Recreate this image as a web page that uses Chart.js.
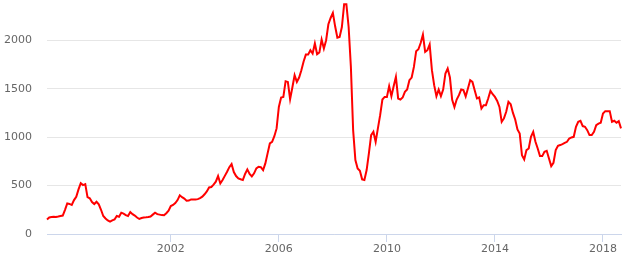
<!DOCTYPE html>
<html>
<head>
<meta charset="utf-8">
<script src="https://cdn.jsdelivr.net/npm/chart.js@4/dist/chart.umd.min.js"></script>
<style>
    html, body { margin: 0; padding: 0; background: #fff; }
    #wrap { position: relative; width: 630px; height: 256px; }
</style>
</head>
<body>
<div id="wrap"><canvas id="priceChart"></canvas></div>
<script>
// ==========================================
// DATA (monthly, Jun 1997 - Sep 2018)
// ==========================================
var months = [
    '1997-06','1997-07','1997-08','1997-09','1997-10','1997-11','1997-12',
    '1998-01','1998-02','1998-03','1998-04','1998-05','1998-06','1998-07','1998-08','1998-09','1998-10','1998-11','1998-12',
    '1999-01','1999-02','1999-03','1999-04','1999-05','1999-06','1999-07','1999-08','1999-09','1999-10','1999-11','1999-12',
    '2000-01','2000-02','2000-03','2000-04','2000-05','2000-06','2000-07','2000-08','2000-09','2000-10','2000-11','2000-12',
    '2001-01','2001-02','2001-03','2001-04','2001-05','2001-06','2001-07','2001-08','2001-09','2001-10','2001-11','2001-12',
    '2002-01','2002-02','2002-03','2002-04','2002-05','2002-06','2002-07','2002-08','2002-09','2002-10','2002-11','2002-12',
    '2003-01','2003-02','2003-03','2003-04','2003-05','2003-06','2003-07','2003-08','2003-09','2003-10','2003-11','2003-12',
    '2004-01','2004-02','2004-03','2004-04','2004-05','2004-06','2004-07','2004-08','2004-09','2004-10','2004-11','2004-12',
    '2005-01','2005-02','2005-03','2005-04','2005-05','2005-06','2005-07','2005-08','2005-09','2005-10','2005-11','2005-12',
    '2006-01','2006-02','2006-03','2006-04','2006-05','2006-06','2006-07','2006-08','2006-09','2006-10','2006-11','2006-12',
    '2007-01','2007-02','2007-03','2007-04','2007-05','2007-06','2007-07','2007-08','2007-09','2007-10','2007-11','2007-12',
    '2008-01','2008-02','2008-03','2008-04','2008-05','2008-06','2008-07','2008-08','2008-09','2008-10','2008-11','2008-12',
    '2009-01','2009-02','2009-03','2009-04','2009-05','2009-06','2009-07','2009-08','2009-09','2009-10','2009-11','2009-12',
    '2010-01','2010-02','2010-03','2010-04','2010-05','2010-06','2010-07','2010-08','2010-09','2010-10','2010-11','2010-12',
    '2011-01','2011-02','2011-03','2011-04','2011-05','2011-06','2011-07','2011-08','2011-09','2011-10','2011-11','2011-12',
    '2012-01','2012-02','2012-03','2012-04','2012-05','2012-06','2012-07','2012-08','2012-09','2012-10','2012-11','2012-12',
    '2013-01','2013-02','2013-03','2013-04','2013-05','2013-06','2013-07','2013-08','2013-09','2013-10','2013-11','2013-12',
    '2014-01','2014-02','2014-03','2014-04','2014-05','2014-06','2014-07','2014-08','2014-09','2014-10','2014-11','2014-12',
    '2015-01','2015-02','2015-03','2015-04','2015-05','2015-06','2015-07','2015-08','2015-09','2015-10','2015-11','2015-12',
    '2016-01','2016-02','2016-03','2016-04','2016-05','2016-06','2016-07','2016-08','2016-09','2016-10','2016-11','2016-12',
    '2017-01','2017-02','2017-03','2017-04','2017-05','2017-06','2017-07','2017-08','2017-09','2017-10','2017-11','2017-12',
    '2018-01','2018-02','2018-03','2018-04','2018-05','2018-06','2018-07','2018-08','2018-09'
];

var values = [
    150, 170, 175, 178, 176, 180, 185,
    190, 250, 316, 310, 299, 350, 385, 460, 525, 505, 515, 380,
    368, 330, 309, 333, 306, 250, 186, 160, 140, 127, 140, 150,
    186, 178, 220, 210, 195, 186, 227, 205, 190, 170, 155, 165,
    170, 172, 175, 180, 200, 220, 205, 200, 195, 193, 215, 240,
    289, 300, 320, 350, 399, 380, 365, 343, 345, 357, 357, 357,
    360, 370, 385, 410, 440, 481, 485, 510, 540, 598, 522, 557,
    600, 642, 690, 722, 640, 598, 574, 565, 557, 620, 667, 620,
    595, 626, 677, 694, 690, 660, 729, 832, 935, 952, 1010, 1090,
    1312, 1409, 1415, 1577, 1570, 1392, 1512, 1639, 1570, 1615, 1691, 1780,
    1852, 1852, 1897, 1863, 1966, 1856, 1873, 2007, 1914, 2000, 2165, 2230,
    2282, 2144, 2027, 2034, 2137, 2371, 2371, 2137, 1725, 1072, 763, 677,
    653, 564, 557, 660, 832, 1021, 1055, 952, 1090, 1227, 1388, 1415,
    1415, 1526, 1423, 1526, 1622, 1399, 1388, 1409, 1467, 1491, 1588, 1615,
    1725, 1887, 1907, 1972, 2059, 1879, 1897, 1955, 1691, 1536, 1423, 1491,
    1423, 1491, 1657, 1708, 1615, 1385, 1310, 1388, 1433, 1491, 1485, 1420,
    1502, 1588, 1570, 1485, 1399, 1409, 1296, 1330, 1330, 1399, 1478, 1443,
    1415, 1374, 1312, 1158, 1193, 1261, 1364, 1340, 1250, 1182, 1079, 1038,
    814, 770, 866, 883, 1003, 1055, 952, 883, 804, 804, 848, 859,
    780, 701, 735, 866, 910, 918, 928, 940, 952, 986, 997, 1003,
    1107, 1158, 1169, 1114, 1107, 1072, 1021, 1021, 1055, 1124, 1140, 1148,
    1244, 1268, 1268, 1268, 1158, 1169, 1148, 1165, 1090
];

var xTickLabels = ['2002', '2006', '2010', '2014', '2018'];
var yTickValues = [0, 500, 1000, 1500, 2000];

// ==========================================
// CHART
// ==========================================
Chart.defaults.font.family = '"DejaVu Sans", Verdana, sans-serif';
Chart.defaults.font.size = 11;
Chart.defaults.color = '#666666';

var ctx = document.getElementById('priceChart').getContext('2d');

new Chart(ctx, {
    type: 'line',
    data: {
        labels: months,
        datasets: [{
            data: values,
            borderColor: '#ff0000',
            borderWidth: 2,
            pointRadius: 0,
            tension: 0,
            fill: false
        }]
    },
    options: {
        responsive: true,
        maintainAspectRatio: false,
        animation: false,
        layout: { padding: { top: 1.5, right: 9, bottom: 0, left: 0 } },
        plugins: { legend: { display: false }, tooltip: { enabled: false } },
        scales: {
            x: {
                type: 'category',
                offset: false,
                // keep only January of the labelled years
                afterBuildTicks: function(scale) {
                    scale.ticks = scale.ticks.filter(function(t) {
                        var m = months[t.value];
                        return m.slice(5) === '01' && xTickLabels.indexOf(m.slice(0, 4)) !== -1;
                    });
                },
                afterFit: function(scale) {
                    scale.height = 22;
                    scale.paddingLeft = 0;
                    scale.paddingRight = 0;
                },
                grid: {
                    drawOnChartArea: false,
                    drawTicks: true,
                    tickLength: 8,
                    color: '#ccd6eb'
                },
                border: { display: true, color: '#ccd6eb' },
                ticks: {
                    autoSkip: false,
                    maxRotation: 0,
                    padding: 1,
                    color: '#666666',
                    callback: function(v) { return months[v].slice(0, 4); }
                }
            },
            y: {
                min: 0,
                max: 2400,
                afterBuildTicks: function(scale) {
                    scale.ticks = yTickValues.map(function(v) { return { value: v }; });
                },
                afterFit: function(scale) {
                    scale.width = 47;
                    scale.paddingTop = 0;
                    scale.paddingBottom = 0;
                },
                grid: {
                    color: '#e6e6e6',
                    drawTicks: true,
                    tickLength: 15,
                    tickColor: 'rgba(0,0,0,0)'
                },
                border: { display: false },
                ticks: {
                    padding: 0,
                    color: '#666666',
                    callback: function(v) { return String(v); }
                }
            }
        }
    }
});
</script>
</body>
</html>
